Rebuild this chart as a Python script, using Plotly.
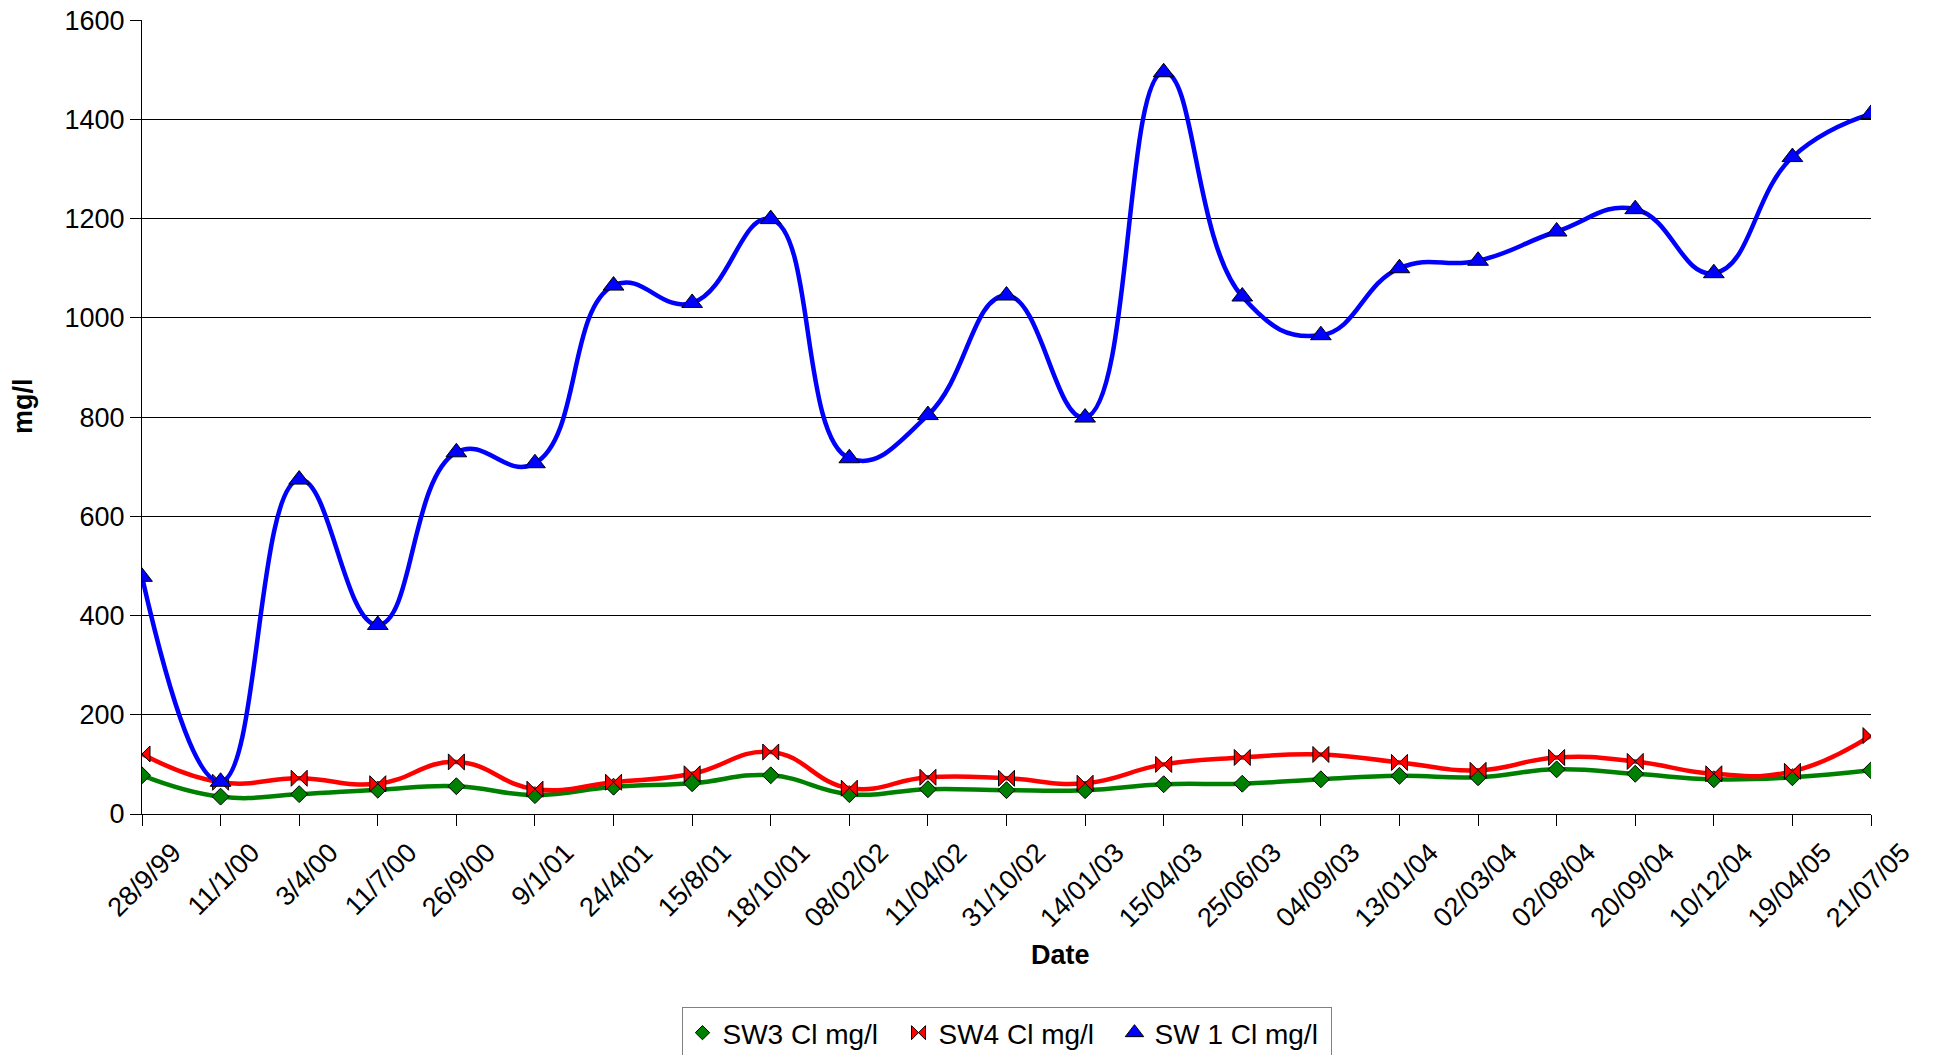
import plotly.graph_objects as go

# Sampling dates as printed on the chart
dates = ['28/9/99', '11/1/00', '3/4/00', '11/7/00', '26/9/00', '9/1/01', '24/4/01',
         '15/8/01', '18/10/01', '08/02/02', '11/04/02', '31/10/02', '14/01/03',
         '15/04/03', '25/06/03', '04/09/03', '13/01/04', '02/03/04', '02/08/04',
         '20/09/04', '10/12/04', '19/04/05', '21/07/05']

# Chloride readings (mg/l)
sw3_cl = [78, 35, 40, 49, 56, 38, 55, 62, 78, 40, 50, 48, 48,
          60, 61, 70, 77, 74, 90, 81, 70, 74, 88]
sw4_cl = [121, 64, 72, 61, 105, 50, 64, 81, 125, 52, 74, 72, 62,
          100, 114, 120, 104, 88, 114, 106, 81, 86, 158]
sw1_cl = [478, 65, 674, 381, 729, 707, 1065, 1030, 1199, 717, 804, 1045, 799,
          1495, 1043, 965, 1100, 1115, 1174, 1219, 1090, 1324, 1411]

FONT = "Liberation Sans, Arial, sans-serif"

series = [
    ("SW3 Cl mg/l", sw3_cl, "#008000", "diamond", 13),
    ("SW4 Cl mg/l", sw4_cl, "#FF0000", "bowtie", 16),
    ("SW 1 Cl mg/l", sw1_cl, "#0000FF", "triangle-up", 18),
]

fig = go.Figure()

# smoothed lines with markers (legend hidden here, marker-only entries added below)
for name, vals, colour, symbol, size in series:
    fig.add_trace(go.Scatter(
        x=dates, y=vals, mode="lines+markers", name=name,
        line=dict(color=colour, width=4.5, shape="spline", smoothing=1.3),
        marker=dict(symbol=symbol, size=size, color=colour,
                    line=dict(color="#000000", width=1)),
        showlegend=False,
    ))

# legend shows only the marker, Excel style
for name, vals, colour, symbol, size in series:
    fig.add_trace(go.Scatter(
        x=[None], y=[None], mode="markers", name=name,
        marker=dict(symbol=symbol, size=size - 2, color=colour,
                    line=dict(color="#000000", width=1)),
    ))

fig.add_annotation(text="<b>Date</b>", xref="paper", yref="paper",
                   x=0.5315, y=-0.1776, xanchor="center", yanchor="middle",
                   showarrow=False, font=dict(family=FONT, size=27))
fig.add_annotation(text="<b>mg/l</b>", xref="paper", yref="paper",
                   x=-0.0688, y=0.514, xanchor="center", yanchor="middle",
                   textangle=-90, showarrow=False, font=dict(family=FONT, size=27))

# page body adds an 8px offset, margins compensate for it
fig.update_layout(
    width=1937, height=1055,
    margin=dict(l=134, r=74, t=12, b=249, autoexpand=False),
    plot_bgcolor="#FFFFFF", paper_bgcolor="#FFFFFF",
    font=dict(family=FONT, size=27, color="#000000"),
    xaxis=dict(
        type="category", range=[0, len(dates) - 1], automargin=False,
        tickangle=-45, ticks="outside", ticklen=11, tickcolor="#000000",
        ticklabelshift=31, ticklabeloverflow="allow",
        showline=True, linecolor="#000000", linewidth=1,
        showgrid=False, zeroline=False,
        tickfont=dict(family=FONT, size=27),
    ),
    yaxis=dict(
        range=[0, 1600.3], dtick=200, tickformat="d", automargin=False,
        ticks="outside", ticklen=11, tickcolor="#000000",
        ticklabeloverflow="allow",
        showline=True, linecolor="#000000", linewidth=1,
        showgrid=True, gridcolor="#000000", gridwidth=1, zeroline=False,
        tickfont=dict(family=FONT, size=27),
    ),
    legend=dict(
        orientation="h", x=0.5, xanchor="center", y=-0.243, yanchor="top",
        bordercolor="#808080", borderwidth=1,
        font=dict(family=FONT, size=28),
        itemwidth=30, entrywidth=171,
    ),
)

fig.write_html("out.html")
